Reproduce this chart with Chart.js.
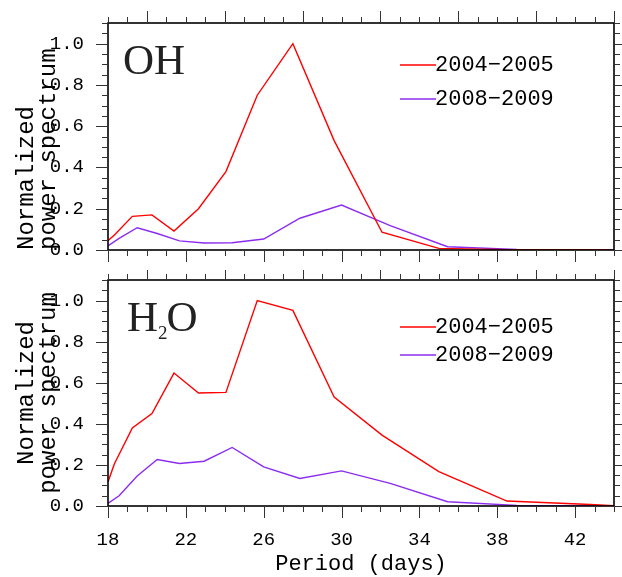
<!DOCTYPE html>
<html>
<head>
<meta charset="utf-8">
<script src="https://cdn.jsdelivr.net/npm/chart.js@4.4.1/dist/chart.umd.min.js"></script>
<style>
  body { margin: 0; background: #fff; }
  #wrap { position: relative; width: 622px; height: 577px; }
  #ohChart { position: absolute; left: 0; top: 0; }
  #h2oChart { position: absolute; left: 0; top: 270px; }
</style>
</head>
<body>
<div id="wrap">
  <canvas id="ohChart" width="622" height="270"></canvas>
  <canvas id="h2oChart" width="622" height="307"></canvas>
</div>
<script>
// periodes (jours)
const periods0405 = [18.0, 18.33, 19.25, 20.26, 21.39, 22.65, 24.06, 25.67, 27.5, 29.62, 32.08, 35.0, 38.5, 42.78, 44.0];
const periods0809 = [18.0, 18.57, 19.5, 20.53, 21.67, 22.94, 24.38, 26.0, 27.86, 30.0, 32.5, 35.45, 39.0, 43.33, 44.0];

// spectres normalises
const ohPower0405  = [0.045, 0.073, 0.163, 0.170, 0.092, 0.200, 0.380, 0.750, 1.000, 0.530, 0.086, 0.008, 0.002, 0.001, 0.0];
const ohPower0809  = [0.020, 0.056, 0.108, 0.080, 0.044, 0.034, 0.035, 0.053, 0.154, 0.218, 0.118, 0.016, 0.003, 0.0, 0.0];
const h2oPower0405 = [0.117, 0.206, 0.380, 0.450, 0.647, 0.550, 0.553, 1.000, 0.952, 0.530, 0.345, 0.167, 0.024, 0.007, 0.002];
const h2oPower0809 = [0.013, 0.050, 0.146, 0.226, 0.207, 0.218, 0.285, 0.190, 0.134, 0.171, 0.110, 0.021, 0.003, 0.0, 0.0];

const seriesLabels = ['2004\u22122005', '2008\u22122009'];
const seriesColors = ['#ff0000', '#8c2cf0'];
const xTickValues = [18, 22, 26, 30, 34, 38, 42];
const yTickValues = [0, 0.2, 0.4, 0.6, 0.8, 1.0];

const monoFont = 'Liberation Mono';

function toPoints(xs, ys) {
  return xs.map((x, i) => ({ x: x, y: ys[i] }));
}

// cadre + graduations vers l'exterieur + legende + nom du panneau
function decor(name, legendY) {
  return {
    id: 'decor',
    afterDatasetsDraw(chart) {
      const ctx = chart.ctx;
      const a = chart.chartArea;
      const xs = chart.scales.x;
      const ys = chart.scales.y;
      ctx.save();
      ctx.strokeStyle = '#000';
      ctx.lineWidth = 1.6;
      ctx.strokeRect(a.left, a.top, a.right - a.left, a.bottom - a.top);

      ctx.lineWidth = 1;
      ctx.strokeStyle = '#333';
      ctx.beginPath();
      for (let v = xs.min; v <= xs.max; v++) {
        const px = Math.round(xs.getPixelForValue(v)) + 0.5;
        const lb = (v - 18) % 4 === 0 ? 12 : 6;
        const lt = (v - 20) % 4 === 0 ? 12 : 6;
        ctx.moveTo(px, a.bottom); ctx.lineTo(px, a.bottom + lb);
        ctx.moveTo(px, a.top); ctx.lineTo(px, a.top - lt);
      }
      for (let i = 0; i * 0.05 <= ys.max + 1e-9; i++) {
        const py = Math.round(ys.getPixelForValue(i * 0.05)) + 0.5;
        const l = i % 4 === 0 ? 12 : 6;
        ctx.moveTo(a.left, py); ctx.lineTo(a.left - l, py);
        ctx.moveTo(a.right, py); ctx.lineTo(a.right + l, py);
      }
      ctx.stroke();

      // legende
      ctx.font = '22px "' + monoFont + '"';
      ctx.textBaseline = 'middle';
      ctx.textAlign = 'left';
      chart.data.datasets.forEach((ds, i) => {
        const y = legendY[i];
        ctx.strokeStyle = ds.borderColor;
        ctx.lineWidth = 1.4;
        ctx.beginPath();
        ctx.moveTo(400, y); ctx.lineTo(436, y);
        ctx.stroke();
        ctx.fillStyle = '#000';
        ctx.fillText(ds.label, 435, y);
      });

      // nom du panneau
      ctx.fillStyle = '#222';
      ctx.textBaseline = 'alphabetic';
      ctx.font = '43px "Liberation Serif"';
      const base = a.top + 51;
      if (name === 'OH') {
        ctx.fillText('OH', 123, base);
      } else {
        ctx.fillText('H', 127, base);
        let x = 127 + ctx.measureText('H').width;
        ctx.font = '19px "Liberation Serif"';
        ctx.fillText('2', x, base + 8);
        x += ctx.measureText('2').width - 1;
        ctx.font = '43px "Liberation Serif"';
        ctx.fillText('O', x, base);
      }
      ctx.restore();
    }
  };
}

function makePanel(id, name, ys0405, ys0809, opts) {
  return new Chart(document.getElementById(id), {
    type: 'line',
    data: {
      datasets: [
        { label: seriesLabels[0], data: toPoints(periods0405, ys0405), borderColor: seriesColors[0], borderWidth: 1.4, pointRadius: 0, tension: 0 },
        { label: seriesLabels[1], data: toPoints(periods0809, ys0809), borderColor: seriesColors[1], borderWidth: 1.4, pointRadius: 0, tension: 0 }
      ]
    },
    options: {
      responsive: false,
      animation: false,
      layout: { padding: { top: opts.top, right: 8, left: 0, bottom: 0 } },
      plugins: { legend: { display: false }, tooltip: { enabled: false } },
      scales: {
        x: {
          type: 'linear', min: 18, max: 44,
          afterFit: (s) => { s.height = opts.xHeight; s.paddingLeft = 0; s.paddingRight = 0; },
          afterBuildTicks: (s) => { s.ticks = xTickValues.map(v => ({ value: v })); },
          grid: { display: false },
          border: { display: false },
          ticks: {
            display: opts.showX, padding: 15, color: '#000', maxRotation: 0, autoSkip: false,
            font: { family: monoFont, size: 19 },
            callback: (v) => String(v)
          },
          title: {
            display: opts.showX, text: 'Period (days)', color: '#000',
            font: { family: monoFont, size: 22 }, padding: { top: 0, bottom: 0 }
          }
        },
        y: {
          min: 0, max: 1.1,
          afterFit: (s) => { s.width = 108; s.paddingTop = 0; s.paddingBottom = 0; },
          afterBuildTicks: (s) => { s.ticks = yTickValues.map(v => ({ value: v })); },
          grid: { display: false },
          border: { display: false },
          ticks: {
            padding: 16, color: '#000',
            font: { family: monoFont, size: 19 },
            callback: (v) => v.toFixed(1)
          },
          title: {
            display: true, text: ['Normalized', 'power spectrum'], color: '#000', align: opts.titleAlign,
            font: { family: monoFont, size: 24, lineHeight: 0.9 }, padding: { top: 16, bottom: 0 }
          }
        }
      }
    },
    plugins: [decor(name, opts.legendY)]
  });
}

makePanel('ohChart', 'OH', ohPower0405, ohPower0809,
  { top: 23, xHeight: 20, showX: false, titleAlign: 'start', legendY: [65, 99] });
makePanel('h2oChart', 'H2O', h2oPower0405, h2oPower0809,
  { top: 10, xHeight: 71, showX: true, titleAlign: 'center', legendY: [57, 85] });
</script>
</body>
</html>
